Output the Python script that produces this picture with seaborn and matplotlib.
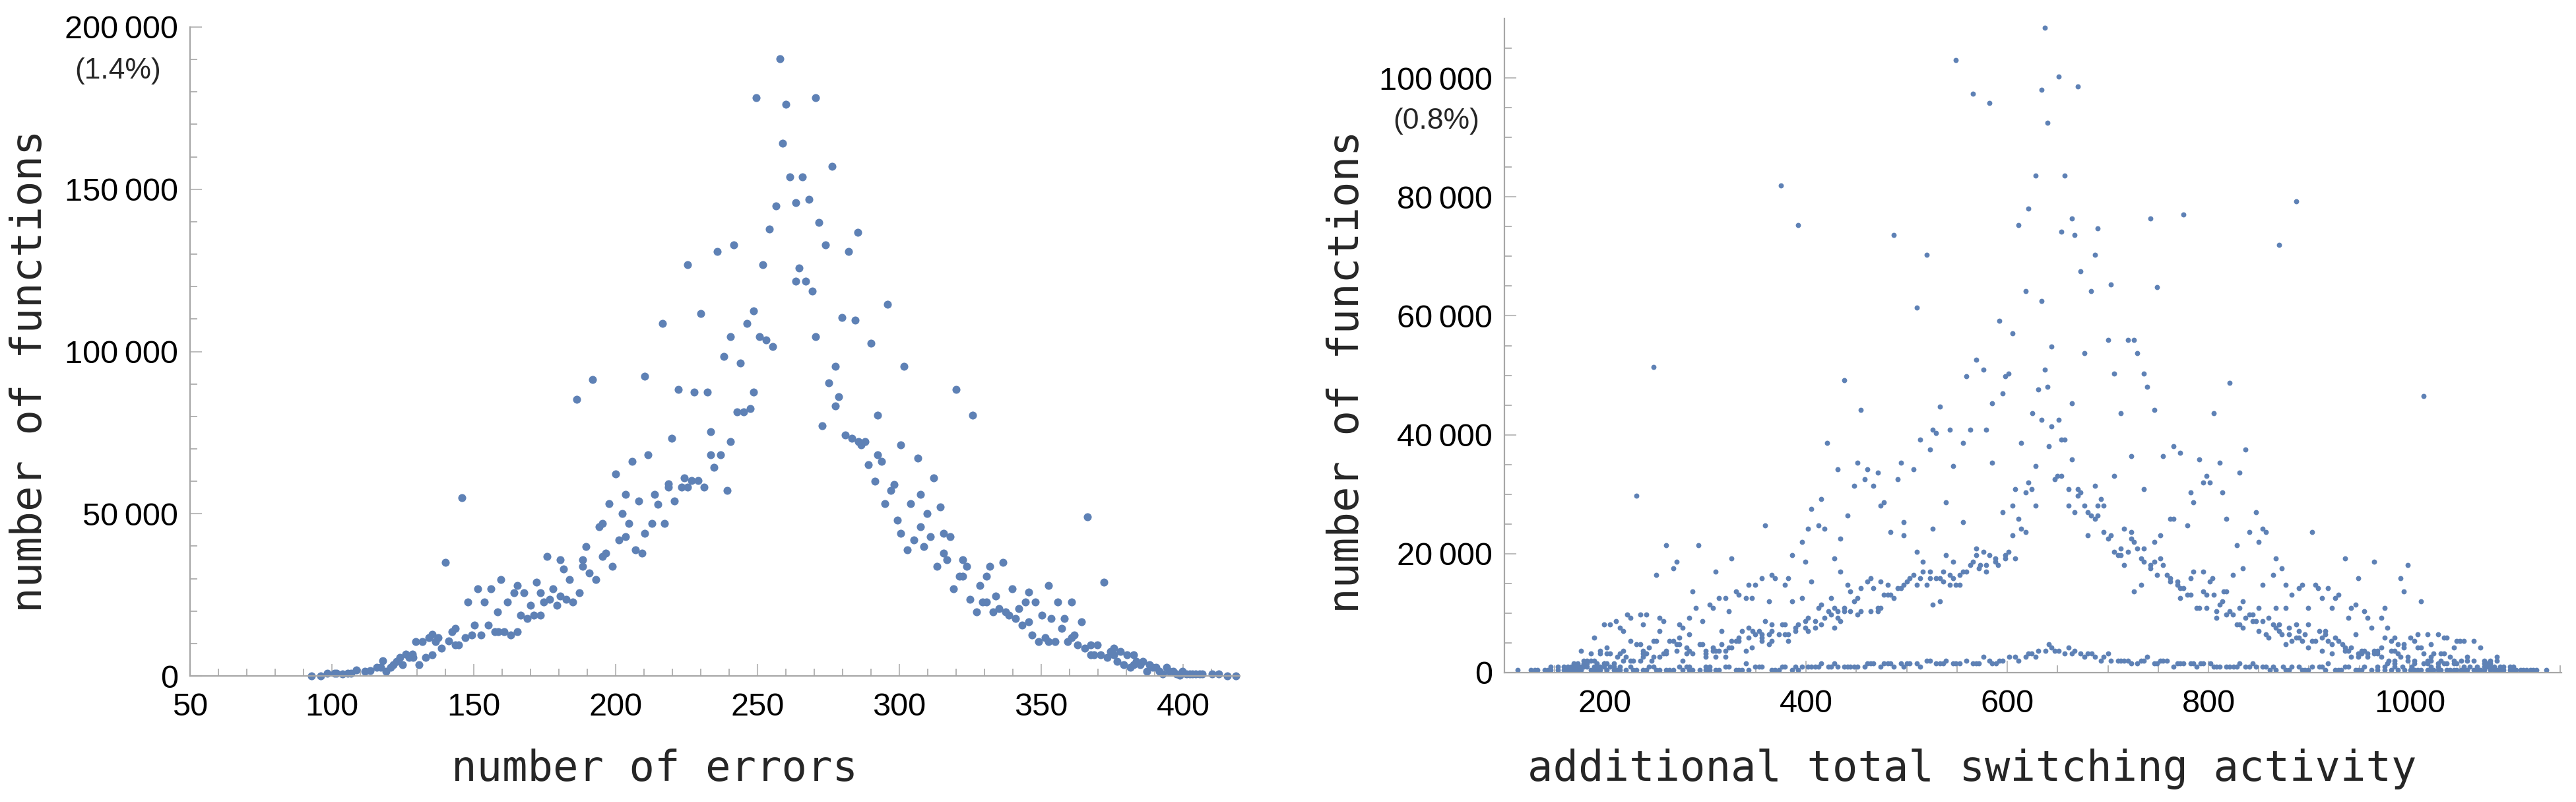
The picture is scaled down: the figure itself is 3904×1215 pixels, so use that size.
import matplotlib
matplotlib.use("Agg")
import matplotlib.pyplot as plt
import pandas as pd
import seaborn as sns

# left panel
errors_x = [
    92.9, 96.1, 98.4, 100.9, 101.6, 103.8, 105.5, 106.8, 108.7, 111.7, 113.5, 115.7, 117.2, 117.9, 119.1, 120.6,
    121.6, 122.7, 123.9, 124.9, 126.1, 127.1, 128.3, 128.6, 130.7, 129.5, 131.9, 133.1, 134.2, 135.3, 135.3, 136.6,
    137.5, 138.7, 141.1, 142.4, 143.4, 143.4, 144.6, 140, 145.7, 146.9, 148, 149.2, 150.3, 151.5, 152.6, 153.8,
    155, 156, 157.4, 158.6, 158.4, 159.5, 160.8, 161.8, 163, 164.2, 165.4, 165.4, 166.6, 167.6, 168.8, 170,
    171.2, 172.2, 173.4, 173.4, 174.6, 175.8, 176.8, 178, 179.2, 180.4, 180.4, 181.6, 182.6, 183.8, 184.8, 186.2,
    187.3, 188.4, 188.4, 189.6, 190.8, 193, 191.9, 194.3, 195.4, 195.4, 196.5, 197.7, 198.9, 200, 201.1, 202.3,
    203.4, 203.5, 204.6, 205.7, 206.9, 208.1, 209.3, 210.3, 210.3, 211.5, 212.7, 213.7, 214.9,
    217.3, 219.7, 218.5, 218.5, 220.8, 223.2, 224.3, 225.3, 226.7, 229, 231.2, 233.6, 233.6, 234.7, 237, 239.4,
    240.4, 242.8, 245.1, 247.4, 272.9, 277.4, 278.6, 280.9, 283.3, 285.6, 286.6, 287.8, 289, 291.3, 292.4, 292.4,
    293.7, 294.8, 297, 298.2, 299.3, 300.5, 300.5, 302.9, 304, 305.2, 306.4, 307.5, 307.5, 308.7, 309.7, 310.9,
    312.1, 313.2, 314.4, 315.6, 315.6, 316.7, 317.9, 319.1, 321.2, 322.4, 322.4, 323.7, 324.8, 325.9, 327.1, 328.3,
    329.4, 330.6, 330.6, 331.8, 333, 334, 335.2, 336.4, 337.5, 338.6, 339.8, 341, 342, 343.2, 344.4, 345.6,
    345.6, 346.7, 347.9, 349.1, 350.2, 351.4, 352.5, 352.5, 353.6, 354.9, 355.9, 357.1, 358.2, 359.4, 360.6, 360.6,
    361.7, 362.9, 364.1, 365.3, 366.3, 367.4, 367.5, 368.7, 369.8, 370.9, 372.1, 373.3, 374.5, 375.5, 375.5, 376.7,
    377.8, 379, 380.2, 381.3, 382.5, 382.5, 383.6, 384.8, 385.9, 387.2, 388.2, 389.4, 390.5, 391.7, 392.9, 394.1,
    395.2, 396.4, 397.6, 399.8, 398.8, 401.2, 402.3, 403.3, 404.5, 405.7, 406.8, 410.3, 412.5, 415.5, 418.5,
    257.8, 249.6, 260, 270.5, 258.9, 276.2, 261.3, 265.9, 268.2, 263.5, 256.6, 271.7, 254.3, 285.4, 241.6, 273.9,
    235.8, 282.1, 225.3, 251.9, 264.7, 263.5, 267, 269.4, 295.8, 248.6, 230, 279.7, 284.4, 216.4, 246.2, 240.4,
    250.8, 253.1, 255.4, 270.5, 290.1, 238.2, 243.9, 277.4, 301.6, 275.1, 222, 227.7, 232.4, 248.6, 320.1,
]
errors_y = [
    0, 0, 800, 800, 800, 600, 800, 800, 1800, 1400, 1600, 2600, 2600, 4600, 1400, 2600,
    3400, 4500, 5700, 3400, 6700, 5700, 6700, 5600, 3500, 10500, 10500, 5600, 11700, 12800, 6500, 10500,
    11700, 8600, 10700, 13700, 14700, 9600, 9600, 34900, 55000, 11700, 22700, 12600, 15700, 26800, 12600, 22700,
    15700, 26800, 13600, 13600, 19700, 29800, 13600, 22700, 12600, 25700, 13600, 27800, 18700, 25700, 17700, 21700,
    18700, 28800, 18700, 25700, 22700, 36900, 23700, 26800, 21700, 24700, 35900, 32900, 23700, 29800, 22700, 85300,
    25700, 35900, 33800, 39900, 31800, 29800, 91400, 45900, 36900, 46900, 37900, 53100, 33800, 62200, 41900, 50000,
    42900, 56000, 46900, 66100, 38900, 54000, 37900, 43900, 92400, 68100, 46900, 56000, 53000,
    47000, 73300, 59200, 58100, 54000, 58100, 61100, 58100, 60200, 60200, 58100, 75200, 68100, 64200, 68100, 57100,
    72200, 81300, 81300, 82400, 77200, 83300, 86100, 74200, 73300, 72200, 71200, 72200, 65200, 60100, 68100, 80300,
    66200, 53100, 57100, 59100, 48000, 43900, 71200, 38900, 53100, 41900, 67200, 56000, 46000, 39900, 50000, 42900,
    61100, 33800, 52000, 43900, 37900, 35900, 42900, 26800, 30800, 30800, 35900, 33800, 23700, 80300, 19700, 27800,
    22700, 22700, 30800, 33800, 19700, 24700, 20700, 34900, 19700, 18700, 26800, 17700, 20700, 15600, 22700, 16700,
    25800, 12600, 22700, 10600, 18700, 11700, 10600, 27800, 17700, 10600, 22700, 14600, 17700, 10600, 22700, 11700,
    12600, 9600, 16700, 8500, 49000, 6500, 9600, 6500, 9600, 6500, 28800, 5600, 7600, 8500, 6500, 4500,
    7600, 3500, 6500, 2600, 6500, 3500, 4500, 3500, 4500, 1500, 3500, 2600, 2600, 1500, 600, 2600,
    1500, 1500, 600, 1500, 300, 600, 600, 600, 600, 600, 600, 600, 600, 0, 0,
    190300, 178200, 176100, 178200, 164100, 157000, 153900, 153900, 146900, 145900, 144900, 139800, 137800, 136800, 132800, 132800,
    130800, 130800, 126800, 126800, 125700, 121700, 121700, 118700, 114600, 112600, 111600, 110500, 109600, 108600, 108600, 104500,
    104500, 103500, 101500, 104500, 102500, 98500, 96500, 95400, 95400, 90400, 88300, 87400, 87400, 87400, 88300,
]

# right panel, isolated high points
peak_x = [549, 566, 375, 392, 487, 520, 510, 248, 569, 559, 438,
          637, 651, 634, 670, 582, 640, 628, 657, 621, 664, 742, 775, 887, 611, 654, 667, 690, 687, 870, 673,
          703, 618, 683, 749, 634, 592, 605, 700, 720, 726, 644, 677, 729, 576, 598, 601, 637, 706, 736, 640,
          631, 739, 595, 821, 585, 664, 1014]
peak_y = [103000, 97400, 81950, 75300, 73600, 70300, 61400, 51400, 52600, 49800, 49200,
          108500, 100200, 98000, 98600, 95800, 92500, 83600, 83600, 78000, 76400, 76400, 77000, 79200, 75300, 74100, 73600, 74700, 70300, 71900, 67500,
          65300, 64200, 64200, 64800, 62500, 59200, 57000, 55900, 55900, 55900, 54800, 53700, 53700, 50900, 49800, 50300, 50900, 50300, 50300, 48100,
          47600, 48100, 47000, 48700, 45300, 45300, 46500]

# right panel, the counts sit on discrete levels
level_y = [44720, 44150, 43590, 42500, 41410, 40800, 40280, 39190, 38630, 38060, 37500, 36980, 36410, 35840, 35280,
           34710, 34150, 33630, 33060, 32540, 31970, 31410, 30840, 30280, 29710, 29190, 28620, 28060, 27540, 26970,
           26400, 25880, 25320, 24750, 24190, 23620, 23100, 22530, 21970, 21400, 20840, 20310, 19750, 19180, 18620,
           18100, 17530, 16970, 16440, 15880, 15310, 14750, 14220, 13660, 13090, 12530, 11960, 11440, 10880, 10350,
           9790, 9220, 8660, 8130, 7570, 7000, 6440, 5870, 5350, 4790, 4260, 3700, 3180, 2610, 2040, 1520, 957, 435]
level_x = [
    [533], [454, 746], [625, 713, 805], [634, 651], [644], [526, 543, 563, 579], [529], [513, 654, 657],
    [421, 556, 614], [641, 765], [523, 837], [772], [723, 755], [664, 791], [451, 494, 585, 811],
    [546, 628], [431, 461, 507], [471, 831], [650, 654, 706, 798], [458, 491, 647], [621, 795, 801],
    [448, 467, 687], [608, 624, 661, 670, 736], [618, 673, 782, 814], [231, 670], [415, 693], [477, 539, 785],
    [474, 605, 628, 661, 677, 690, 696], [405], [595, 667, 680, 847],
    [441, 683, 690], [611, 687, 762, 765, 818], [497, 556], [359, 412, 779], [402, 418, 526, 614, 716, 854],
    [484, 618, 696, 723, 841, 857, 903], [497, 605, 680, 703, 752], [434, 700, 723], [396, 726, 746, 850],
    [261, 293, 828], [569, 713, 729, 736], [510, 576, 601, 706, 720], [386, 539, 569, 582, 598, 710, 713],
    [326, 428, 588, 598, 608, 733, 752, 867, 936], [271, 399, 516, 546, 566, 588, 736, 746, 965],
    [563, 573, 579, 591, 716, 742, 755, 998], [268, 572, 742, 834, 873],
    [310, 434, 516, 523, 536, 556, 559, 579, 785, 795], [251, 366, 507, 543, 553, 749, 759, 824, 864],
    [356, 369, 382, 464, 503, 513, 523, 529, 533, 546, 762, 782, 804, 949, 991],
    [405, 461, 474, 500, 536, 762, 769, 801],
    [343, 349, 379, 441, 481, 497, 510, 520, 543, 549, 553, 733, 769, 854, 877, 893, 906],
    [454, 467, 491, 494, 772, 775, 890, 909, 919], [287, 330, 444, 726, 795, 815, 818, 994],
    [333, 477, 481, 484, 779, 782, 798, 805, 883, 929], [313, 320, 340, 346, 396, 425, 451, 487, 772, 913, 926],
    [363, 386, 448, 533, 814, 834, 1011], [304, 415, 526, 811, 946],
    [290, 307, 412, 428, 438, 471, 474, 788, 791, 798, 831, 850, 867, 877, 899, 923, 942, 975],
    [323, 422, 431, 438, 444, 454, 464, 471, 808, 821, 955],
    [222, 235, 241, 425, 451, 818, 824, 841, 844], [225, 254, 284, 402, 418, 431, 808, 837, 860, 939, 958, 972],
    [211, 258, 297, 359, 399, 409, 434, 844, 847, 854],
    [199, 205, 238, 274, 366, 376, 379, 392, 415, 828, 831, 864, 870, 887, 899],
    [215, 277, 343, 389, 399, 409, 428, 834, 867, 880, 962, 978],
    [218, 254, 316, 336, 347, 353, 366, 389, 402, 850, 870, 890, 910, 916],
    [284, 349, 356, 363, 373, 379, 382, 857, 873, 880, 896, 916, 946, 1008, 1018, 1028],
    [189, 274, 333, 343, 356, 860, 887, 890, 913, 926, 975, 985, 1001, 1034, 1037],
    [225, 248, 251, 264, 268, 326, 330, 333, 356, 366, 382, 883, 893, 903, 906, 919, 929, 982, 1005, 1047, 1050, 1054, 1064],
    [231, 235, 271, 274, 294, 297, 316, 363, 641, 877, 923, 933, 988, 994, 1021],
    [202, 244, 281, 307, 323, 326, 346, 644, 661, 899, 936, 942, 972, 994, 1008, 1011, 1044, 1070],
    [176, 195, 218, 238, 261, 271, 284, 300, 307, 310, 313, 320, 340, 631, 638, 647, 651, 667, 913, 936, 939, 952,
     955, 965, 968, 982, 985],
    [186, 195, 202, 205, 215, 238, 241, 258, 261, 281, 287, 300, 621, 624, 657, 664, 673, 680, 684, 700, 923, 949,
     952, 958, 965, 968, 988, 1014, 1024, 1031, 1034],
    [212, 221, 238, 248, 254, 300, 310, 320, 576, 602, 608, 618, 628, 677, 687, 696, 739, 942, 949, 958, 972, 991,
     998, 1021, 1040, 1057, 1087],
    [179, 182, 186, 189, 218, 225, 228, 235, 246, 277, 520, 523, 539, 559, 582, 592, 595, 611, 693, 703, 710, 713,
     716, 720, 733, 736, 752, 755, 759, 979, 985, 998, 1005, 1018, 1021, 1031, 1044, 1051, 1057, 1064, 1074, 1080, 1087],
    [169, 173, 179, 182, 192, 199, 202, 209, 340, 415, 428, 461, 464, 467, 477, 481, 484, 494, 500, 503, 510, 529,
     533, 536, 546, 549, 553, 566, 569, 572, 585, 589, 723, 729, 746, 749, 769, 772, 775, 782, 785, 792, 795, 802,
     831, 844, 919, 978, 985, 1005, 1014, 1018, 1028, 1034, 1037, 1044, 1047, 1074, 1077, 1080],
    [146, 153, 159, 163, 166, 169, 173, 176, 179, 182, 189, 192, 195, 199, 205, 209, 215, 225, 244, 248, 274, 281,
     284, 300, 304, 320, 323, 349, 353, 356, 376, 379, 389, 396, 402, 405, 409, 412, 422, 425, 431, 438, 441, 444,
     448, 451, 458, 474, 487, 497, 513, 765, 788, 805, 808, 811, 818, 821, 825, 828, 837, 841, 847, 854, 857, 864,
     874, 883, 890, 903, 910, 913, 936, 939, 955, 968, 975, 985, 993, 1002, 1021, 1028, 1054, 1060, 1067, 1074,
     1077, 1080, 1084, 1090, 1093, 1100, 1103],
    [113, 126, 130, 133, 140, 143, 146, 153, 159, 163, 166, 169, 173, 176, 186, 189, 192, 195, 202, 209, 212, 215,
     221, 228, 231, 238, 241, 251, 254, 261, 264, 268, 277, 284, 287, 294, 300, 304, 310, 313, 330, 333, 336, 343,
     366, 369, 373, 386, 392, 861, 867, 877, 880, 893, 896, 899, 916, 926, 929, 932, 946, 949, 952, 962, 968, 975,
     982, 988, 995, 1001, 1005, 1008, 1011, 1018, 1021, 1024, 1028, 1031, 1037, 1040, 1044, 1047, 1051, 1054, 1057,
     1064, 1067, 1070, 1074, 1080, 1084, 1087, 1090, 1093, 1100, 1103, 1106, 1110, 1113, 1116, 1120, 1123, 1126, 1136],
]

# the original groups digits with a thin gap
errors_xticks = [50, 100, 150, 200, 250, 300, 350, 400]
errors_yticks = [0, 50000, 100000, 150000, 200000]
errors_ylabels = ["0", "50\u2009000", "100\u2009000", "150\u2009000", "200\u2009000"]
switch_xticks = [200, 400, 600, 800, 1000]
switch_yticks = [0, 20000, 40000, 60000, 80000, 100000]
switch_ylabels = ["0", "20\u2009000", "40\u2009000", "60\u2009000", "80\u2009000", "100\u2009000"]

df_errors = pd.DataFrame({"x": errors_x, "y": errors_y})
level_df = pd.DataFrame({"y": level_y, "x": level_x}).explode("x")
df_switch = pd.concat([pd.DataFrame({"x": peak_x, "y": peak_y}), level_df[["x", "y"]].astype(float)])

sns.set_theme(style="ticks")
plt.rcParams["font.family"] = ["Liberation Sans", "DejaVu Sans"]

W, H = 3904, 1215
BLUE = "#5E81B5"
fig = plt.figure(figsize=(W / 100, H / 100), dpi=100, facecolor="white")


def make_axes(left, right, top, bottom):
    return fig.add_axes([left / W, 1 - bottom / H, (right - left) / W, (bottom - top) / H])


def style_axes(ax, xminor, yminor):
    sns.despine(ax=ax)
    for side in ["left", "bottom"]:
        ax.spines[side].set_color("#A6A6A6")
        ax.spines[side].set_linewidth(1.6)
    ax.tick_params(axis="both", which="major", direction="in", length=13, width=1.5, color="#BDBDBD",
                   labelsize=35, labelcolor="black", pad=13)
    ax.tick_params(axis="x", which="major", pad=18)
    ax.tick_params(axis="both", which="minor", direction="in", length=8, width=1.2, color="#A6A6A6")
    ax.set_xticks(xminor, minor=True)
    ax.set_yticks(yminor, minor=True)


ax1 = make_axes(288, 1879, 41, 1024)
sns.scatterplot(data=df_errors, x="x", y="y", ax=ax1, s=76, color=BLUE, linewidth=0, clip_on=False)
ax1.set_xlim(50, 420)
ax1.set_ylim(0, 200000)
ax1.set_xticks(errors_xticks)
ax1.set_yticks(errors_yticks, errors_ylabels)
style_axes(ax1, range(60, 420, 10), range(10000, 200000, 10000))
ax1.set_xlabel("number of errors", family="DejaVu Sans Mono", fontsize=46, va="center")
ax1.set_ylabel("number of functions", family="DejaVu Sans Mono", fontsize=46, va="center")
ax1.xaxis.set_label_coords(0.4425, -0.143)
ax1.yaxis.set_label_coords(-0.153, 0.47)
fig.text(179 / W, 1 - 107 / H, "(1.4%)", fontsize=32, ha="center", va="center")

ax2 = make_axes(2280, 3882, 28, 1019)
sns.scatterplot(data=df_switch, x="x", y="y", ax=ax2, s=32, color=BLUE, linewidth=0, clip_on=False)
ax2.set_xlim(100, 1151)
ax2.set_ylim(0, 110000)
ax2.set_xticks(switch_xticks)
ax2.set_yticks(switch_yticks, switch_ylabels)
style_axes(ax2, range(150, 1151, 50), range(5000, 110000, 5000))
ax2.set_xlabel("additional total switching activity", family="DejaVu Sans Mono", fontsize=46, va="center")
ax2.set_ylabel("number of functions", family="DejaVu Sans Mono", fontsize=46, va="center")
ax2.xaxis.set_label_coords(0.4426, -0.147)
ax2.yaxis.set_label_coords(-0.149, 0.46)
fig.text(2177 / W, 1 - 183 / H, "(0.8%)", fontsize=32, ha="center", va="center")

fig.savefig("out.png", dpi=100)
